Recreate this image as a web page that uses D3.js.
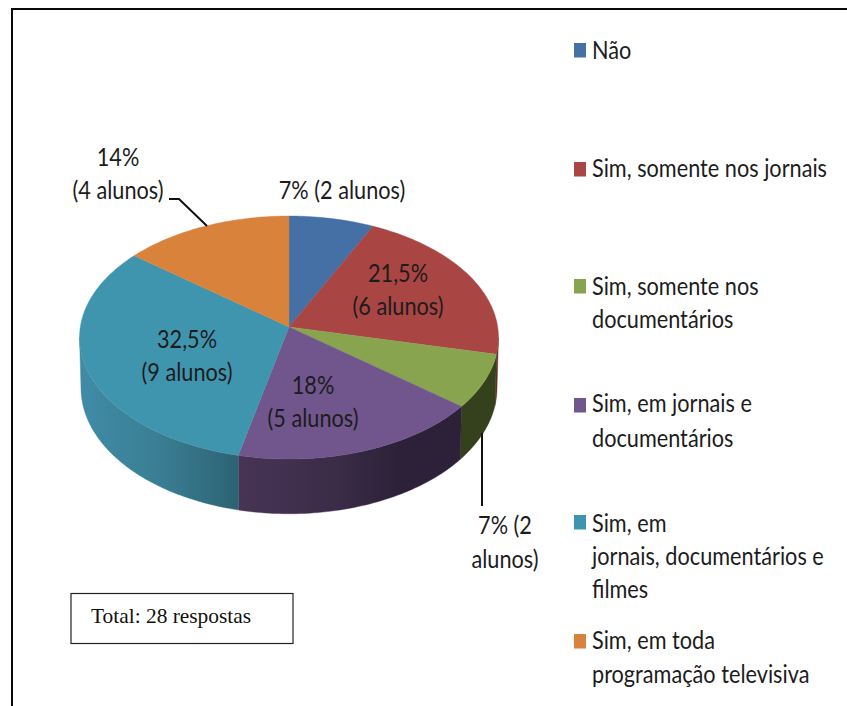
<!DOCTYPE html>
<html><head><meta charset="utf-8">
<script src="https://cdn.jsdelivr.net/npm/d3@7/dist/d3.min.js"></script>
<style>html,body{margin:0;padding:0;background:#fff;overflow:hidden}svg{display:block}</style>
</head><body>
<script>
const categories = ["Não","Sim, somente nos jornais","Sim, somente nos documentários","Sim, em jornais e documentários","Sim, em jornais, documentários e filmes","Sim, em toda programação televisiva"];
const alunos = [2,6,2,5,9,4];
const legendLines = [["Não"],["Sim, somente nos jornais"],["Sim, somente nos","documentários"],["Sim, em jornais e","documentários"],["Sim, em","jornais, documentários e","filmes"],["Sim, em toda","programação televisiva"]];
const dataLabels = [["7% (2 alunos)"],["21,5%","(6 alunos)"],["7% (2","alunos)"],["18%","(5 alunos)"],["32,5%","(9 alunos)"],["14%","(4 alunos)"]];
const totalText = "Total: 28 respostas";

const topColors = ["#4470a5","#a94543","#88a44f","#71568d","#4095ae","#d8823c"];
const labelCenter = [[342,199],[398,282],[505,534],[313,394],[187,348],[118,166]];
const labelGap = [33,33,34,33,33,33];
const legendSwatchY = [43,162,279,398,515,634];
const legendBaseY = [[59],[177],[295,328],[412,447],[532,565,598],[649,683]];

const W=847,H=706,cx=289,apex=327,R=208.7,K=120.6,persp=0.0865,D=50,inset=0.993;
const FONT="Lato", FS=25, SX=0.868;

const x=d3.scaleLinear().domain([-1,1]).range([cx-R,cx+R]);
const y=d3.scaleLinear().domain([-1,1]).range([apex-K,apex+K]);
const rim=t=>{const w=1+persp*Math.cos(t);return [x(Math.sin(t)/w),y(-Math.cos(t)/w),w];};
const lowRim=t=>{const [a,b,w]=rim(t);return [cx+(a-cx)*inset,b+D/w];};

const svg=d3.select("body").append("svg").attr("width",W).attr("height",H);
const defs=svg.append("defs");
svg.append("rect").attr("width",W).attr("height",H).attr("fill","#fff");

function grad(id,stops){
  const g=defs.append("linearGradient").attr("id",id).attr("gradientUnits","userSpaceOnUse")
    .attr("x1",stops[0][0]).attr("x2",stops[stops.length-1][0]).attr("y1",0).attr("y2",0);
  const span=stops[stops.length-1][0]-stops[0][0];
  stops.forEach(s=>g.append("stop").attr("offset",(s[0]-stops[0][0])/span).attr("stop-color",s[1]));
}
grad("wall4",[[80,"#3f8ba6"],[160,"#3a7e93"],[240,"#2c6273"]]);
grad("wall3",[[240,"#473455"],[340,"#3a2b47"],[400,"#2c2138"],[461,"#2c2138"]]);
const wallFill=["#2d4a6b","#6a2a28","#35401c","url(#wall3)","url(#wall4)","#8a5226"];

const slices=d3.pie().sort(null).value(d=>d)(alunos);
const line=d3.line();
const arcPts=(a,b,f)=>{const n=Math.max(2,Math.ceil((b-a)/0.02));return d3.range(n+1).map(i=>f(a+(b-a)*i/n));};
const visStart=Math.PI/2+0.087, visEnd=Math.PI*1.5-0.087;

// side walls
slices.forEach((s,i)=>{
  const a=Math.max(s.startAngle,visStart),b=Math.min(s.endAngle,visEnd);
  if(b<=a) return;
  const pts=arcPts(a,b,rim).map(p=>[p[0],p[1]]).concat(arcPts(a,b,lowRim).reverse());
  svg.append("path").attr("d",line(pts)+"Z").attr("fill",wallFill[i]).attr("stroke",wallFill[i]).attr("stroke-width",0.4);
});
// top faces
slices.forEach((s,i)=>{
  const pts=[[cx,apex]].concat(arcPts(s.startAngle,s.endAngle,rim).map(p=>[p[0],p[1]]));
  svg.append("path").attr("d",line(pts)+"Z").attr("fill",topColors[i]).attr("stroke",topColors[i]).attr("stroke-width",0.4);
});

// leaders
svg.append("path").attr("d",line([[169,199],[179,199],[207,226]])).attr("fill","none").attr("stroke","#111").attr("stroke-width",2);
svg.append("path").attr("d",line([[482,433],[482,506]])).attr("fill","none").attr("stroke","#111").attr("stroke-width",2);

function put(g,str,px,py,anchor){
  g.append("text").attr("transform",`translate(${px},${py}) scale(${SX},1)`)
   .attr("text-anchor",anchor).attr("font-family",FONT).attr("font-size",FS).attr("fill","#1c1c1c").text(str);
}
const lab=svg.append("g");
dataLabels.forEach((ls,i)=>ls.forEach((t,j)=>put(lab,t,labelCenter[i][0],labelCenter[i][1]+j*labelGap[i],"middle")));

const leg=svg.append("g");
categories.forEach((c,i)=>{
  leg.append("rect").attr("x",574).attr("y",legendSwatchY[i]).attr("width",12).attr("height",14.5).attr("fill",topColors[i]);
  legendLines[i].forEach((t,j)=>put(leg,t,592,legendBaseY[i][j],"start"));
});

// total box
svg.append("rect").attr("x",71).attr("y",593.5).attr("width",222).attr("height",50).attr("fill","#fff").attr("stroke","#222").attr("stroke-width",1.2);
svg.append("text").attr("x",91).attr("y",623).attr("font-family","Liberation Serif").attr("font-size",21.4).attr("fill","#111").text(totalText);

// frame
svg.append("path").attr("d",line([[12,H],[12,9],[W,9]])).attr("fill","none").attr("stroke","#0a0a0a").attr("stroke-width",2);
</script>
</body></html>
